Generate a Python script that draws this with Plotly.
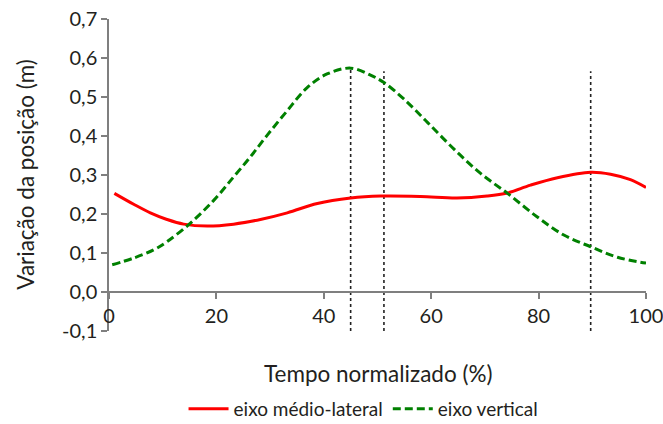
import plotly.graph_objects as go

# Data
ml_x = [1.0, 4.6, 7.7, 10.8, 13.9, 18.3, 23.2, 28.2, 33.2, 38.8, 45.0, 50.6, 58.0, 64.8, 70.4, 74.2, 78.5, 83.5, 89.7, 93.4, 97.1, 100.0]
ml_y = [0.253, 0.225, 0.203, 0.186, 0.174, 0.169, 0.174, 0.186, 0.203, 0.227, 0.241, 0.246, 0.245, 0.241, 0.246, 0.254, 0.274, 0.293, 0.307, 0.302, 0.288, 0.268]

vt_x = [0.6, 4.6, 8.3, 10.8, 15.1, 19.5, 23.2, 26.3, 29.4, 33.2, 36.9, 40.6, 45.0, 48.7, 51.2, 54.9, 59.3, 64.2, 69.2, 74.2, 79.7, 84.7, 89.7, 94.7, 100.0]
vt_y = [0.070, 0.087, 0.108, 0.129, 0.176, 0.235, 0.295, 0.346, 0.401, 0.465, 0.524, 0.559, 0.574, 0.556, 0.537, 0.495, 0.435, 0.367, 0.304, 0.253, 0.193, 0.146, 0.116, 0.089, 0.074]

event_x = [45.0, 51.2, 89.7]
event_top = [0.574, 0.566, 0.566]
event_bottom = -0.1

y_ticks = [-0.1, 0.0, 0.1, 0.2, 0.3, 0.4, 0.5, 0.6, 0.7]
y_ticktext = ["-0,1", "0,0", "0,1", "0,2", "0,3", "0,4", "0,5", "0,6", "0,7"]
x_ticks = [0, 20, 40, 60, 80, 100]

FONT = "Lato, 'Open Sans', sans-serif"
TXT = "#231f20"
AX = "#7f7f7f"

fig = go.Figure()

for ex, et in zip(event_x, event_top):
    fig.add_trace(go.Scatter(x=[ex, ex], y=[event_bottom, et], mode="lines",
                             line=dict(color="#222222", width=1.6, dash="dot"),
                             showlegend=False, hoverinfo="skip"))

fig.add_trace(go.Scatter(x=ml_x, y=ml_y, mode="lines", name="eixo médio-lateral",
                         line=dict(color="#ff0000", width=3, shape="spline")))
fig.add_trace(go.Scatter(x=vt_x, y=vt_y, mode="lines", name="eixo vertical",
                         line=dict(color="#008000", width=3, shape="spline", dash="8px,4px")))

fig.update_layout(
    width=663, height=424,
    margin=dict(l=109, r=17, t=19, b=93, autoexpand=False),
    plot_bgcolor="white", paper_bgcolor="white",
    font=dict(family=FONT, color=TXT, size=20),
    showlegend=True,
    legend=dict(orientation="h", x=0.474, xanchor="center", y=-0.25, yanchor="middle",
                font=dict(size=19, color=TXT), itemwidth=40, tracegroupgap=0),
    xaxis=dict(range=[0, 100], anchor="free", position=0.125, automargin=False,
               showline=True, linecolor=AX, linewidth=1.5,
               ticks="outside", ticklen=6, tickcolor=AX, tickwidth=1.5,
               tickvals=x_ticks, ticktext=[str(v) for v in x_ticks],
               ticklabeloverflow="allow",
               showgrid=False, zeroline=False,
               tickfont=dict(size=20, color=TXT)),
    yaxis=dict(range=[-0.1, 0.7], automargin=False, showline=True, linecolor=AX, linewidth=1.5,
               ticks="outside", ticklen=6, tickcolor=AX, tickwidth=1.5,
               tickvals=y_ticks, ticktext=y_ticktext,
               ticklabeloverflow="allow",
               showgrid=False, zeroline=False,
               tickfont=dict(size=20, color=TXT)),
    annotations=[
        dict(text="Tempo normalizado (%)", xref="paper", yref="paper", x=0.5, y=-0.135,
             xanchor="center", yanchor="middle", showarrow=False,
             font=dict(size=22.5, color=TXT)),
        dict(text="Variação da posição (m)", xref="paper", yref="paper", x=-0.157, y=0.5,
             xanchor="center", yanchor="middle", showarrow=False, textangle=-90,
             font=dict(size=22.5, color=TXT)),
    ],
)

fig.write_html("out.html", config={"displayModeBar": False},
               post_script="document.body.style.margin='0';document.body.style.overflow='hidden';")
